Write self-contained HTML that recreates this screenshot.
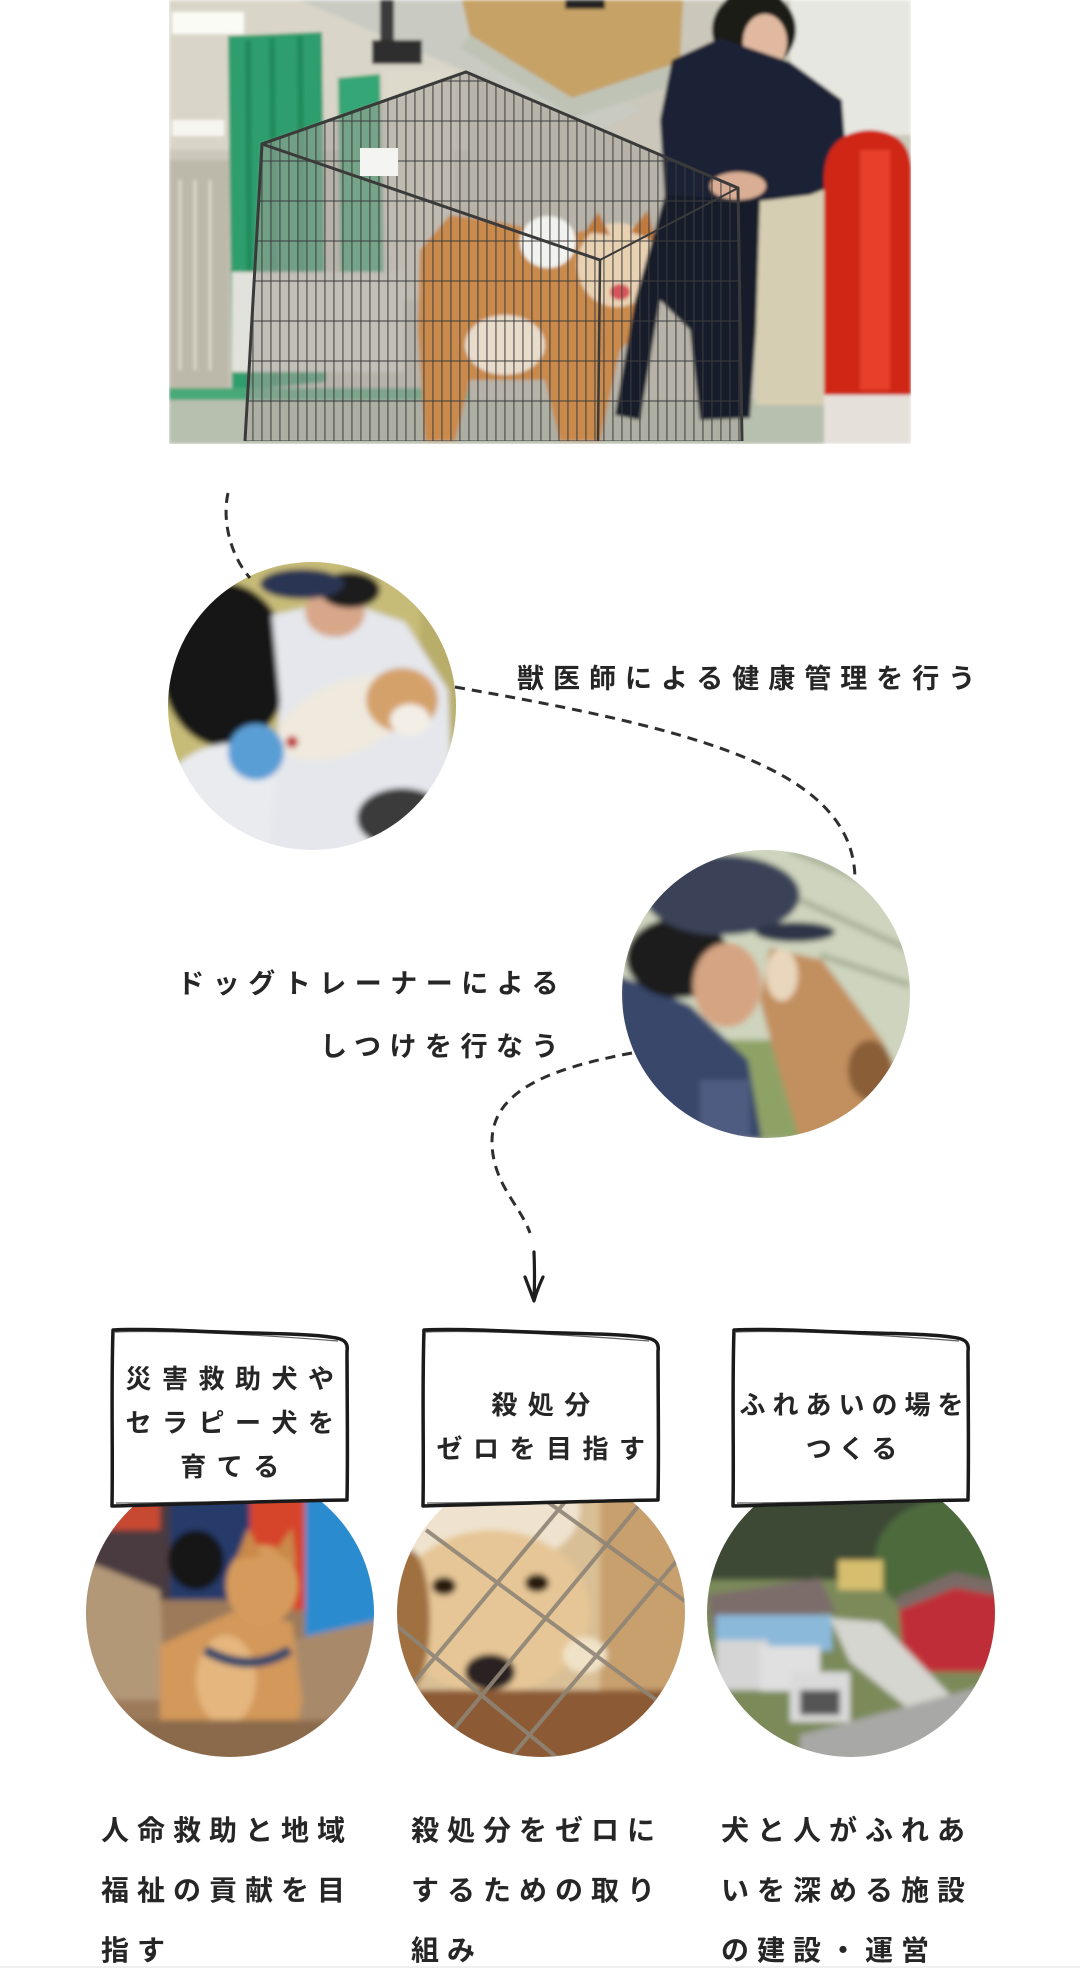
<!DOCTYPE html>
<html lang="ja">
<head>
<meta charset="utf-8">
<style>
html,body{margin:0;padding:0;background:#fff;}
body{width:1080px;height:1968px;position:relative;overflow:hidden;}
svg{position:absolute;left:0;top:0;}
.t{position:absolute;font-family:"Liberation Sans","Noto Sans CJK JP",sans-serif;color:#262626;font-weight:700;white-space:nowrap;}
</style>
</head>
<body>
<svg width="1080" height="1968" viewBox="0 0 1080 1968" xmlns="http://www.w3.org/2000/svg">
<defs>
  <clipPath id="cp0"><rect x="169" y="0" width="742" height="444"/></clipPath>
  <clipPath id="c1"><circle cx="312" cy="706" r="144"/></clipPath>
  <clipPath id="c2"><circle cx="766" cy="994" r="144"/></clipPath>
  <clipPath id="cA"><circle cx="230" cy="1613" r="144"/></clipPath>
  <clipPath id="cB"><circle cx="541" cy="1613" r="144"/></clipPath>
  <clipPath id="cC"><circle cx="851" cy="1613" r="144"/></clipPath>
  <filter id="b1" x="-5%" y="-5%" width="110%" height="110%"><feGaussianBlur stdDeviation="1.5"/></filter>
  <filter id="b3" x="-5%" y="-5%" width="110%" height="110%"><feGaussianBlur stdDeviation="3"/></filter>
  <pattern id="wire" width="9" height="9" patternUnits="userSpaceOnUse">
    <rect x="0" y="0" width="1.8" height="9" fill="#3c3c3c"/>
  </pattern>
  <pattern id="wireh" width="9" height="40" patternUnits="userSpaceOnUse">
    <rect x="0" y="0" width="9" height="2" fill="#3c3c3c"/>
  </pattern>
</defs>

<!-- ===== TOP PHOTO ===== -->
<g clip-path="url(#cp0)">
<g filter="url(#b1)">
  <rect x="169" y="0" width="742" height="444" fill="#cbc7ba"/>
  <rect x="169" y="0" width="300" height="150" fill="#d9d5c8"/>
  <polygon points="300,0 470,0 640,110 600,130" fill="#c9cbc2"/>
  <rect x="172" y="12" width="72" height="22" fill="#fbfbf6"/>
  <rect x="172" y="120" width="52" height="16" fill="#f6f6f0"/>
  <rect x="169" y="160" width="60" height="230" fill="#bdb9aa"/>
  <g stroke="#e6e2d4" stroke-width="2">
    <line x1="180" y1="180" x2="180" y2="370"/><line x1="195" y1="180" x2="195" y2="370"/><line x1="210" y1="180" x2="210" y2="370"/>
  </g>
  <polygon points="462,0 683,0 680,62 572,98 470,35" fill="#c6a266"/>
  <polygon points="470,35 572,98 680,62 690,80 575,118 460,48" fill="#bfc3b6"/>
  <rect x="380" y="0" width="14" height="50" fill="#3a3a3a"/>
  <rect x="372" y="40" width="50" height="24" fill="#2e2e2e"/>
  <rect x="565" y="0" width="40" height="9" fill="#222"/>
  <polygon points="228,36 322,32 326,382 232,392" fill="#2f9e6e"/>
  <g stroke="#1f8455" stroke-width="6" opacity=".7">
    <line x1="248" y1="40" x2="250" y2="385"/><line x1="272" y1="38" x2="275" y2="385"/><line x1="300" y1="36" x2="303" y2="383"/>
  </g>
  <polygon points="338,78 380,74 384,300 341,305" fill="#35a674"/>
  <rect x="384" y="70" width="70" height="230" fill="#ddd9cb"/>
  <rect x="232" y="272" width="172" height="100" fill="#e2e2dc"/>
  <rect x="169" y="388" width="300" height="12" fill="#4aa878"/>
  <rect x="169" y="400" width="742" height="44" fill="#b7bfae"/>
  <rect x="756" y="60" width="72" height="345" fill="#d6ceb2"/>
  <rect x="790" y="0" width="121" height="135" fill="#e7e7e1"/>
  <polygon points="262,144 466,72 738,188 742,441 245,441" fill="#a7a39a" opacity=".55"/>
  <polygon points="420,250 450,215 500,222 560,235 600,228 650,232 662,270 650,320 620,350 600,441 560,441 545,380 470,380 455,441 425,441 418,330" fill="#c98a4c"/>
  <ellipse cx="617" cy="265" rx="40" ry="42" fill="#e9d2b2"/>
  <polygon points="585,232 598,212 610,235" fill="#c07a3c"/>
  <polygon points="630,232 648,210 655,240" fill="#c07a3c"/>
  <ellipse cx="505" cy="345" rx="40" ry="30" fill="#e9dccb"/>
  <ellipse cx="548" cy="242" rx="28" ry="26" fill="#f2f2ee"/>
  <ellipse cx="620" cy="292" rx="10" ry="8" fill="#d7555a"/>
  <ellipse cx="754" cy="30" rx="42" ry="40" fill="#1e1a18"/>
  <ellipse cx="765" cy="42" rx="22" ry="28" fill="#e0b9a0"/>
  <polygon points="672,60 720,38 790,62 842,100 848,180 810,195 770,200 712,205 665,200 660,120" fill="#1b2236"/>
  <polygon points="665,195 760,200 756,330 750,418 700,420 690,330 660,300 640,420 615,415 635,300" fill="#161b2a"/>
  <ellipse cx="738" cy="186" rx="28" ry="14" fill="#d9ae94"/>
  <path d="M824,175 Q826,132 870,130 Q911,132 911,170 L911,395 L824,395 Z" fill="#cf2619"/>
  <rect x="860" y="150" width="30" height="240" fill="#ef4a32" opacity=".7"/>
  <rect x="824" y="395" width="87" height="49" fill="#e6e0da"/>
</g>
<polygon points="262,144 466,72 738,188 742,441 245,441" fill="url(#wire)" opacity=".55"/>
<polygon points="262,144 466,72 738,188 742,441 245,441" fill="url(#wireh)" opacity=".5"/>
<polyline points="245,441 262,144 466,72 738,188 742,441" fill="none" stroke="#3a3a3a" stroke-width="3"/>
<line x1="262" y1="144" x2="600" y2="260" stroke="#3a3a3a" stroke-width="3"/>
<line x1="600" y1="260" x2="738" y2="188" stroke="#3a3a3a" stroke-width="2"/>
<line x1="600" y1="260" x2="598" y2="441" stroke="#3a3a3a" stroke-width="2.5"/>
<rect x="360" y="148" width="38" height="28" fill="#f4f4f2"/>
</g>

<!-- ===== CIRCLE 1 ===== -->
<g clip-path="url(#c1)">
<g filter="url(#b3)">
  <rect x="160" y="555" width="310" height="310" fill="#c7bb78"/>
  <rect x="420" y="555" width="50" height="310" fill="#b9ad6a"/>
  <ellipse cx="225" cy="665" rx="64" ry="82" fill="#141414"/>
  <ellipse cx="235" cy="805" rx="75" ry="62" fill="#e9ebef"/>
  <polygon points="272,615 340,600 405,622 448,690 452,790 432,860 268,860 280,700" fill="#e5e7ec"/>
  <ellipse cx="335" cy="612" rx="30" ry="25" fill="#d8a78a"/>
  <ellipse cx="350" cy="590" rx="30" ry="18" fill="#1e1e1e"/>
  <ellipse cx="302" cy="584" rx="42" ry="15" fill="#2c3552"/>
  <ellipse cx="345" cy="718" rx="72" ry="36" transform="rotate(-22 345 718)" fill="#efe9de"/>
  <ellipse cx="402" cy="700" rx="36" ry="32" fill="#d5a16b"/>
  <ellipse cx="410" cy="720" rx="20" ry="16" fill="#f3eee6"/>
  <ellipse cx="256" cy="752" rx="28" ry="28" fill="#5a9ed6"/>
  <ellipse cx="402" cy="818" rx="45" ry="30" fill="#3a3a3a"/>
  <circle cx="292" cy="742" r="6" fill="#c03030"/>
</g>
</g>

<!-- ===== CIRCLE 2 ===== -->
<g clip-path="url(#c2)">
<g filter="url(#b3)">
  <rect x="615" y="845" width="300" height="300" fill="#ced4bd"/>
  <g stroke="#a9b199" stroke-width="6"><line x1="790" y1="850" x2="910" y2="900"/><line x1="800" y1="900" x2="910" y2="950"/><line x1="820" y1="955" x2="910" y2="985"/></g>
  <rect x="680" y="1040" width="120" height="100" fill="#8fa266"/>
  <polygon points="618,975 690,1005 748,1060 762,1140 618,1140" fill="#37466a"/>
  <rect x="700" y="1080" width="50" height="60" fill="#4d5c80"/>
  <ellipse cx="678" cy="958" rx="52" ry="40" fill="#1b1b1b"/>
  <ellipse cx="727" cy="985" rx="34" ry="42" fill="#d5a482"/>
  <ellipse cx="722" cy="895" rx="78" ry="40" fill="#3a4258"/>
  <ellipse cx="795" cy="932" rx="40" ry="10" fill="#2e3448"/>
  <polygon points="770,948 822,960 882,1040 912,1100 912,1140 800,1140 776,1060 760,1000" fill="#c28f5e"/>
  <ellipse cx="782" cy="975" rx="16" ry="26" fill="#e9d6bc"/>
  <ellipse cx="870" cy="1070" rx="22" ry="30" fill="#8a5e38"/>
</g>
</g>

<!-- ===== BOTTOM CIRCLE A ===== -->
<g clip-path="url(#cA)">
<g filter="url(#b3)">
  <rect x="80" y="1460" width="300" height="305" fill="#9c7a5a"/>
  <rect x="80" y="1460" width="300" height="140" fill="#4a3a40"/>
  <rect x="170" y="1460" width="85" height="140" fill="#263a6a"/>
  <rect x="250" y="1460" width="60" height="150" fill="#d6452a"/>
  <rect x="305" y="1460" width="75" height="200" fill="#2b8bcf"/>
  <rect x="100" y="1470" width="60" height="60" fill="#c84a30"/>
  <ellipse cx="196" cy="1560" rx="28" ry="30" fill="#141414"/>
  <polygon points="84,1560 160,1590 165,1700 84,1700" fill="#b39878"/>
  <polygon points="290,1640 378,1620 378,1720 300,1722" fill="#a88a6a"/>
  <polygon points="160,1645 232,1612 292,1622 302,1700 292,1760 160,1760" fill="#d3985a"/>
  <ellipse cx="226" cy="1680" rx="30" ry="45" fill="#e5b67e"/>
  <ellipse cx="262" cy="1585" rx="36" ry="40" fill="#d69b5c"/>
  <polygon points="236,1560 248,1528 262,1556" fill="#c9894a"/>
  <polygon points="275,1552 292,1528 296,1565" fill="#c9894a"/>
  <path d="M205,1650 Q250,1675 290,1650" stroke="#34486a" stroke-width="10" fill="none"/>
  <rect x="80" y="1720" width="300" height="45" fill="#8b6a4c"/>
</g>
</g>

<!-- ===== BOTTOM CIRCLE B ===== -->
<g clip-path="url(#cB)">
<g filter="url(#b3)">
  <rect x="390" y="1460" width="305" height="305" fill="#d9bf96"/>
  <ellipse cx="480" cy="1510" rx="100" ry="60" fill="#efe3cf"/>
  <rect x="600" y="1470" width="90" height="230" fill="#c8a06e"/>
  <ellipse cx="492" cy="1612" rx="98" ry="82" fill="#e6c696"/>
  <ellipse cx="410" cy="1620" rx="20" ry="70" fill="#a07040"/>
  <rect x="390" y="1690" width="305" height="75" fill="#8c5a36"/>
  <ellipse cx="444" cy="1586" rx="12" ry="9" fill="#2a1a10"/>
  <ellipse cx="537" cy="1583" rx="12" ry="9" fill="#2a1a10"/>
  <ellipse cx="490" cy="1672" rx="25" ry="18" fill="#2a2220"/>
  <ellipse cx="585" cy="1655" rx="22" ry="18" fill="#f0e2c6"/>
</g>
<g stroke="#8e8476" stroke-width="4" fill="none" opacity=".9">
  <line x1="426" y1="1530" x2="690" y2="1725"/>
  <line x1="545" y1="1500" x2="700" y2="1612"/>
  <line x1="390" y1="1620" x2="560" y2="1760"/>
  <line x1="575" y1="1490" x2="395" y2="1705"/>
  <line x1="690" y1="1545" x2="500" y2="1770"/>
  <line x1="660" y1="1480" x2="420" y2="1770"/>
</g>
</g>

<!-- ===== BOTTOM CIRCLE C ===== -->
<g clip-path="url(#cC)">
<g filter="url(#b3)">
  <rect x="700" y="1460" width="305" height="305" fill="#7c8a5a"/>
  <rect x="700" y="1460" width="305" height="120" fill="#3c4934"/>
  <ellipse cx="945" cy="1560" rx="70" ry="60" fill="#4d6a3c"/>
  <rect x="838" y="1560" width="45" height="30" fill="#d6be6e"/>
  <polygon points="708,1595 820,1578 836,1612 712,1628" fill="#7c6d6b"/>
  <rect x="716" y="1615" width="116" height="36" fill="#8bb9da"/>
  <polygon points="898,1598 955,1575 1000,1588 1000,1672 904,1672" fill="#bf2f38"/>
  <polygon points="895,1598 955,1572 1000,1582 1000,1596 955,1588 900,1610" fill="#7a6a66"/>
  <polygon points="830,1618 880,1622 955,1700 925,1722 850,1662" fill="#d6d6d0"/>
  <rect x="716" y="1640" width="52" height="50" fill="#d5d5d5"/>
  <rect x="760" y="1646" width="60" height="45" fill="#e0e0e0"/>
  <rect x="790" y="1672" width="60" height="50" fill="#dadada"/>
  <rect x="800" y="1690" width="40" height="25" fill="#555"/>
  <polygon points="800,1735 1005,1680 1005,1765 800,1765" fill="#a8a8a6"/>
</g>
</g>

<!-- ===== DASHED CONNECTORS ===== -->
<g fill="none" stroke="#2e2e2e" stroke-width="3" stroke-dasharray="10 7">
  <path d="M228,493 C222,520 230,555 250,578"/>
  <path d="M455,687 C700,730 855,770 855,880"/>
  <path d="M632,1053 C540,1070 490,1095 492,1145 C494,1185 520,1205 530,1233"/>
</g>
<g fill="none" stroke="#1e1e1e" stroke-width="3.2" stroke-linecap="round" stroke-linejoin="round">
  <path d="M534,1252 Q535,1278 534,1300"/>
  <path d="M525,1277 Q530,1290 534,1301 Q537,1290 543,1277"/>
</g>

<!-- ===== CARDS ===== -->
<g fill="#fff" stroke="#1a1a1a" stroke-width="3.5" stroke-linejoin="round">
  <path transform="translate(112,1329)" d="M1,1 C40,-1 90,3 140,4 C180,5 215,6 228,10 C234,12 236,16 235,22 C235,70 236,120 235,171 C160,172 80,175 0,177 C1,120 -1,60 1,1 Z"/>
  <path transform="translate(423,1329)" d="M1,1 C40,-1 90,3 140,4 C180,5 215,6 228,10 C234,12 236,16 235,22 C235,70 236,120 235,171 C160,172 80,175 0,177 C1,120 -1,60 1,1 Z"/>
  <path transform="translate(733,1329)" d="M1,1 C40,-1 90,3 140,4 C180,5 215,6 228,10 C234,12 236,16 235,22 C235,70 236,120 235,171 C160,172 80,175 0,177 C1,120 -1,60 1,1 Z"/>
</g>
<g fill="none" stroke="#1a1a1a" stroke-width="1.2" opacity=".7">
  <path transform="translate(112,1329)" d="M3,3 C60,1 150,6 226,12 M236,30 C237,90 234,140 236,168 M4,174 C60,174 140,172 232,170"/>
  <path transform="translate(423,1329)" d="M3,3 C60,1 150,6 226,12 M236,30 C237,90 234,140 236,168 M4,174 C60,174 140,172 232,170"/>
  <path transform="translate(733,1329)" d="M3,3 C60,1 150,6 226,12 M236,30 C237,90 234,140 236,168 M4,174 C60,174 140,172 232,170"/>
</g>
<rect x="0" y="1966" width="1080" height="2" fill="#efefef"/>
</svg>

<!-- ===== TEXT ===== -->
<div class="t" style="left:517px;top:666px;font-size:27px;line-height:27px;letter-spacing:9px;">獣医師による健康管理を行う</div>

<div class="t" style="right:513px;top:953px;font-size:27px;line-height:63px;letter-spacing:8.5px;text-align:right;">ドッグトレーナーによる<br>しつけを行なう</div>

<div class="t" style="left:85px;width:300px;top:1357px;font-size:26px;line-height:44px;letter-spacing:10.5px;text-align:center;">災害救助犬や<br>セラピー犬を<br>育てる</div>
<div class="t" style="left:396px;width:300px;top:1383px;font-size:26px;line-height:44px;letter-spacing:10.5px;text-align:center;">殺処分<br>ゼロを目指す</div>
<div class="t" style="left:705px;width:300px;top:1383px;font-size:26px;line-height:44px;letter-spacing:7px;text-align:center;">ふれあいの場を<br>つくる</div>

<div class="t" style="left:101px;top:1801px;font-size:28px;line-height:60px;letter-spacing:8px;">人命救助と地域<br>福祉の貢献を目<br>指す</div>
<div class="t" style="left:411px;top:1801px;font-size:28px;line-height:60px;letter-spacing:8px;">殺処分をゼロに<br>するための取り<br>組み</div>
<div class="t" style="left:721px;top:1801px;font-size:28px;line-height:60px;letter-spacing:8px;">犬と人がふれあ<br>いを深める施設<br>の建設・運営</div>
</body>
</html>
